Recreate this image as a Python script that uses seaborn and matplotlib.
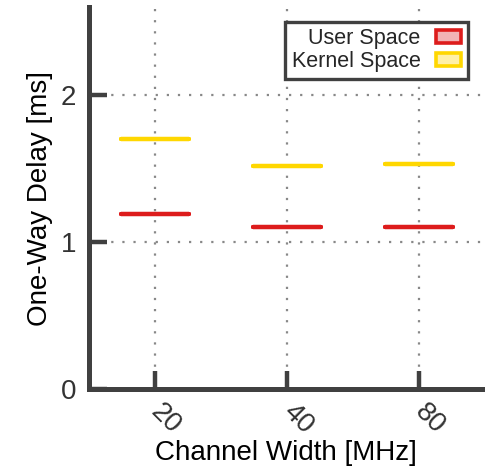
import matplotlib
matplotlib.use("Agg")
import matplotlib.pyplot as plt
from matplotlib.patches import Patch
import seaborn as sns
import pandas as pd

# Median one-way delay per channel width
widths = ["20", "40", "80"]
user_space = [1.19, 1.105, 1.105]
kernel_space = [1.70, 1.515, 1.53]
series = ["User Space", "Kernel Space"]
colors = {"User Space": "#dd1c1c", "Kernel Space": "#ffd700"}
fills = {"User Space": "#f2b3b5", "Kernel Space": "#fff0a8"}

df = pd.DataFrame({
    "width": widths * 2,
    "delay": user_space + kernel_space,
    "space": [series[0]] * 3 + [series[1]] * 3,
})

sns.set_theme(style="white")
plt.rcParams["font.family"] = ["Liberation Sans", "DejaVu Sans"]

fig = plt.figure(figsize=(4.97, 4.68), dpi=100)
ax = fig.add_axes([0.179, 0.1688, 0.7916, 0.8162])

spine_col = "#404040"

# dotted grid
for y in (1, 2):
    ax.axhline(y, color="#888888", ls=(0, (1, 4)), lw=1.6, zorder=0)
for x in range(len(widths)):
    ax.axvline(x, color="#888888", ls=(0, (1, 4)), lw=1.6, zorder=0)

sns.boxplot(data=df, x="width", y="delay", hue="space", order=widths,
            hue_order=series, palette=colors, dodge=False, fill=False,
            width=0.52, linewidth=3.0, showfliers=False, whis=0,
            showcaps=False, legend=False, ax=ax, zorder=3)
ax.set_xlim(-0.5, 2.48)
ax.set_ylim(0, 2.6)

for s in ("top", "right"):
    ax.spines[s].set_visible(False)
for s in ("left", "bottom"):
    ax.spines[s].set_color(spine_col)
    ax.spines[s].set_linewidth(3.6)
    ax.spines[s].set_zorder(4)

ax.set_yticks([0, 1, 2])
ax.tick_params(axis="both", direction="in", length=13, width=3.2,
               color=spine_col, labelcolor="#333333", labelsize=20,
               bottom=True, left=True)
ax.tick_params(axis="y", pad=9)
ax.tick_params(axis="x", pad=14)
for lab in ax.get_xticklabels():
    lab.set_rotation(-45)
    lab.set_rotation_mode("anchor")
    lab.set_ha("left")
    lab.set_va("center")

ax.set_xlabel("Channel Width [MHz]", fontsize=20, color="black", labelpad=0)
ax.set_ylabel("One-Way Delay [ms]", fontsize=20, color="black", labelpad=6)

handles = [Patch(facecolor=fills[s], edgecolor=colors[s], linewidth=2.6, label=s)
           for s in series]
leg = ax.legend(handles=handles, loc="upper right", bbox_to_anchor=(0.963, 0.962),
                markerfirst=False, fontsize=15.5, frameon=True, fancybox=False,
                borderpad=0.3, labelspacing=0.1, handlelength=1.2,
                handleheight=0.6, handletextpad=0.7, borderaxespad=0.0)
leg.get_frame().set_edgecolor(spine_col)
leg.get_frame().set_linewidth(2.4)
leg.get_frame().set_alpha(1)

fig.savefig("out.png", dpi=100)
